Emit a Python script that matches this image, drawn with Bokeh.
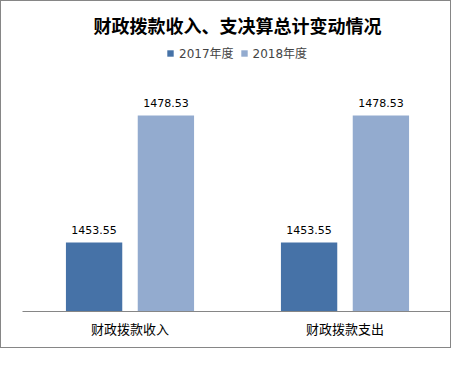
from bokeh.plotting import figure
from bokeh.models import ColumnDataSource, FactorRange, Range1d, LabelSet, Legend, LegendItem
from bokeh.core.properties import value
from bokeh.transform import dodge
from bokeh.embed import file_html
from bokeh.resources import INLINE

categories = ["财政拨款收入", "财政拨款支出"]
series_names = ["2017年度", "2018年度"]
values_2017 = [1453.55, 1453.55]
values_2018 = [1478.53, 1478.53]
axis_min = 1440
axis_max = 1493.3

DARK = "#4672A7"
LIGHT = "#93ABCF"
GRAY = "#868686"
CJK = "'DejaVu Sans', 'Noto Sans CJK SC'"

src = ColumnDataSource(dict(
    cat=categories,
    v17=values_2017,
    v18=values_2018,
    l17=[f"{v:.2f}" for v in values_2017],
    l18=[f"{v:.2f}" for v in values_2018],
    base=[axis_min] * len(categories),
))

p = figure(width=451, height=348, output_backend="svg", toolbar_location=None,
           x_range=FactorRange(*categories, range_padding=0),
           y_range=Range1d(axis_min, axis_max),
           min_border_left=21, min_border_right=0, min_border_top=39, min_border_bottom=38,
           title="财政拨款收入、支决算总计变动情况")
p.styles = {"border": f"1px solid {GRAY}"}
p.outline_line_color = None
p.background_fill_color = "white"
p.border_fill_color = "white"

p.title.align = "center"
p.title.text_font = "Noto Sans CJK SC"
p.title.text_font_style = "bold"
p.title.text_font_size = "18px"
p.title.text_color = "#000000"
p.title.offset = 0
p.title.standoff = 5

r1 = p.vbar(x=dodge("cat", -0.167, range=p.x_range), top="v17", bottom="base", width=0.262,
            source=src, fill_color=DARK, line_color=None)
r2 = p.vbar(x=dodge("cat", 0.167, range=p.x_range), top="v18", bottom="base", width=0.262,
            source=src, fill_color=LIGHT, line_color=None)

for col, lab, off in (("v17", "l17", -0.167), ("v18", "l18", 0.167)):
    ls = LabelSet(x=dodge("cat", off, range=p.x_range), y=col, text=lab, source=src,
                  y_offset=9, text_align="center", text_baseline="alphabetic",
                  text_font=value("DejaVu Sans"), text_font_size=value("11px"),
                  text_color="#000000")
    p.add_layout(ls)

legend = Legend(items=[LegendItem(label=series_names[0], renderers=[r1]),
                       LegendItem(label=series_names[1], renderers=[r2])],
                orientation="horizontal", location=(144, 250),
                glyph_width=8, glyph_height=8, label_standoff=5, spacing=6,
                padding=0, margin=0, border_line_color=None, background_fill_alpha=0,
                label_text_font=CJK, label_text_font_size="12px", label_height=12)
p.add_layout(legend)

p.yaxis.visible = False
p.xgrid.grid_line_color = None
p.ygrid.grid_line_color = None
p.xaxis.axis_line_color = GRAY
p.xaxis.axis_line_width = 1
p.xaxis.major_tick_line_color = None
p.xaxis.minor_tick_line_color = None
p.xaxis.major_label_text_font = "Noto Sans CJK SC"
p.xaxis.major_label_text_font_size = "13px"
p.xaxis.major_label_text_color = "#000000"
p.xaxis.major_label_standoff = 1

open("out.html", "w").write(file_html(p, INLINE))
